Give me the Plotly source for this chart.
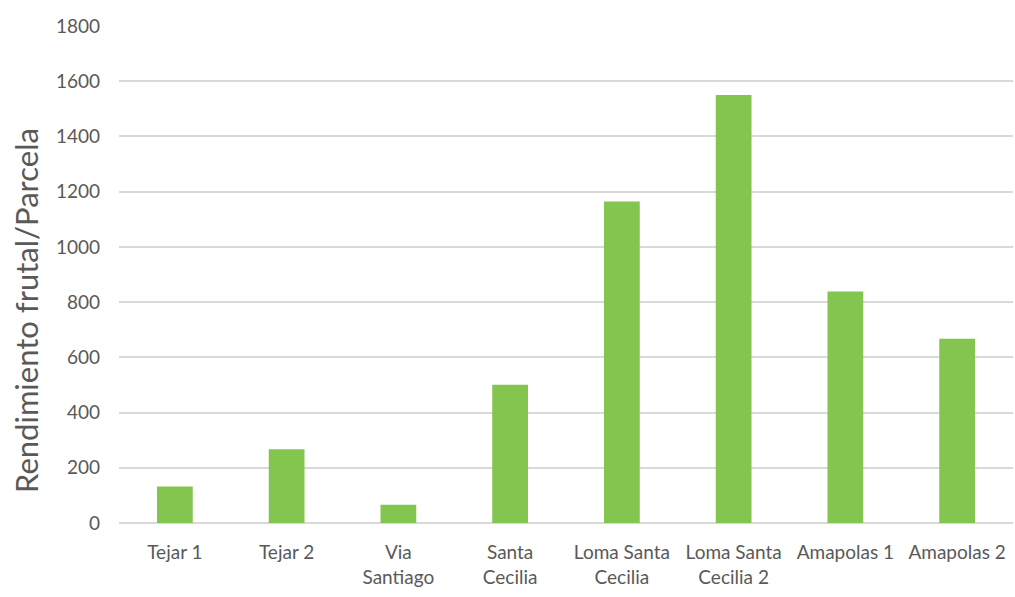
import plotly.graph_objects as go

categories = ["Tejar 1", "Tejar 2", "Via<br>Santiago", "Santa<br>Cecilia",
              "Loma Santa<br>Cecilia", "Loma Santa<br>Cecilia 2", "Amapolas 1", "Amapolas 2"]
values = [132, 267, 66, 501, 1164, 1550, 838, 667]
y_ticks = [0, 200, 400, 600, 800, 1000, 1200, 1400, 1600, 1800]
y_title = "Rendimiento frutal/Parcela"

fig = go.Figure(go.Bar(x=categories, y=values, marker=dict(color="#84C550", line=dict(width=0))))

fig.update_layout(
    width=1015, height=597,
    margin=dict(l=119, r=2, t=26, b=74),
    plot_bgcolor="white", paper_bgcolor="white",
    bargap=0.68,
    showlegend=False,
    font=dict(family="Lato", color="#595959", size=19),
)
fig.update_xaxes(showgrid=False, showline=False, ticks="", tickfont=dict(size=19, color="#595959"),
                 ticklabelstandoff=16)
fig.update_yaxes(range=[0, 1800], tickvals=y_ticks, showgrid=True, gridcolor="#D9D9D9", gridwidth=1.5,
                 zeroline=True, zerolinecolor="#D9D9D9", zerolinewidth=1.5,
                 tickfont=dict(size=19, color="#595959"), ticklabelstandoff=18)
fig.add_annotation(text=y_title, textangle=-90, xref="paper", yref="paper",
                   x=-0.104, y=0.4266, xanchor="center", yanchor="middle", showarrow=False,
                   font=dict(size=31, color="#595959"))

fig.write_html("out.html")
